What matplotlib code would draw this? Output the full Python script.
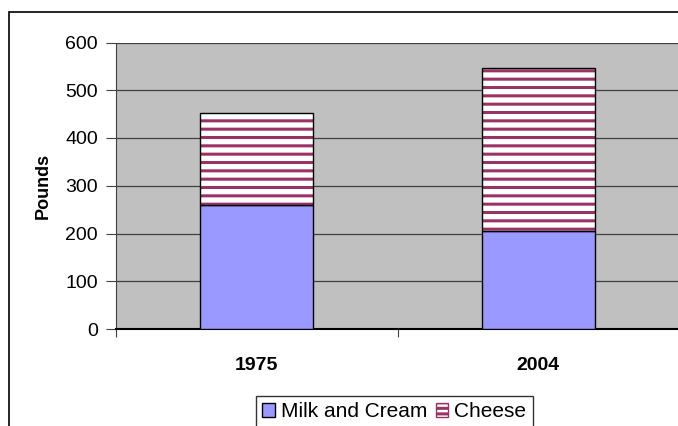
import matplotlib.pyplot as plt
from matplotlib.patches import Rectangle, Patch

years = ["1975", "2004"]
milk_and_cream = [259, 205]
cheese = [194, 341]
y_ticks = [0, 100, 200, 300, 400, 500, 600]

plt.rcParams['font.family'] = ['Liberation Sans', 'DejaVu Sans']
plt.rcParams['hatch.linewidth'] = 2.2

STRIPE = '#993366'

fig = plt.figure(figsize=(6.78, 4.26), dpi=100)
ax = fig.add_axes([116 / 678, 97 / 426, 563 / 678, 286.5 / 426])

# outer chart frame, cut off at right and bottom like the reference
fig.patches.append(Rectangle((9 / 678, -0.1), 1.2, (426 - 12) / 426 + 0.1,
                             transform=fig.transFigure, fill=False,
                             edgecolor='black', linewidth=1.2, zorder=0))

x = range(len(years))
ax.bar(x, milk_and_cream, width=0.4, color='#9999FF', edgecolor='black',
       linewidth=1.0, zorder=3)
# striped fill (hatch takes the edge colour), then a black outline on top
ax.bar(x, cheese, width=0.4, bottom=milk_and_cream, color='white',
       edgecolor=STRIPE, hatch='--', linewidth=0, zorder=3)
ax.bar(x, cheese, width=0.4, bottom=milk_and_cream, fill=False,
       edgecolor='black', linewidth=1.0, zorder=4)

ax.set_facecolor('#C0C0C0')
ax.set_xlim(-0.5, 1.5)
ax.set_ylim(0, 600)
ax.set_yticks(y_ticks)
ax.set_yticklabels([str(v) for v in y_ticks], fontsize=14)
ax.yaxis.grid(True, color='#404040', linewidth=0.9, zorder=1)
ax.set_axisbelow(True)

ax.set_xticks([-0.5, 0.5, 1.5])
ax.set_xticklabels([])
ax.set_xticks(list(x), minor=True)
ax.set_xticklabels(years, minor=True, fontsize=14, fontweight='bold')
ax.tick_params(axis='x', which='minor', length=0, pad=20)
ax.tick_params(axis='x', which='major', length=6, color='#404040', direction='out')
ax.tick_params(axis='y', length=7, color='#404040', direction='out', pad=6)

ax.set_ylabel("Pounds", fontsize=13, fontweight='bold', labelpad=10)

for side in ['top', 'right']:
    ax.spines[side].set_visible(False)
ax.spines['left'].set_color('#404040')
ax.spines['bottom'].set_color('black')
ax.spines['bottom'].set_linewidth(1.5)

handles = [Patch(facecolor='#9999FF', edgecolor='black', label='Milk and Cream'),
           Patch(facecolor='white', edgecolor=STRIPE, hatch='---', label='Cheese')]
leg = fig.legend(handles=handles, loc='upper left', bbox_to_anchor=(256 / 678, 30 / 426),
                 ncol=2, fontsize=15, frameon=True, fancybox=False,
                 handlelength=0.6, handleheight=0.6, handletextpad=0.3,
                 columnspacing=0.4, borderpad=0.3, borderaxespad=0)
leg.get_frame().set_edgecolor('black')
leg.get_frame().set_linewidth(1.0)

fig.savefig("out.png", dpi=100)
